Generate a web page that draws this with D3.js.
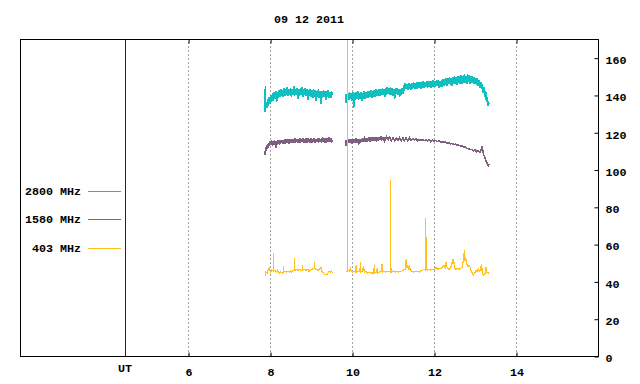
<!DOCTYPE html>
<html>
<head>
<meta charset="utf-8">
<script src="https://cdn.jsdelivr.net/npm/d3@7"></script>
<style>
    body { margin: 0; background: #fff; }
    text { font-family: "Liberation Mono", "DejaVu Sans Mono", monospace; font-weight: bold; font-size: 11.7px; fill: #000; }
</style>
</head>
<body>
<svg id="chart" width="640" height="384"></svg>
<script>
// chart texts and ticks
const title = "09 12 2011";
const xTicks = [6, 8, 10, 12, 14];
const yTicks = [0, 20, 40, 60, 80, 100, 120, 140, 160];
const utHour = 4.46;
const legendNames = ["2800 MHz", "1580 MHz", "403 MHz"];
const seriesColors = ["#10c0c0", "#806080", "#ffc020"];

// [hour, flux] pairs, two recording segments per frequency
const flux2800a = [[7.88,131],[7.885,145],[7.89,132],[7.90,135],[7.92,133],[7.94,138],[7.96,134],[7.98,139],[8.00,135],[8.02,140],[8.04,136.5],[8.06,141],[8.08,137],[8.10,141.5],[8.12,138],[8.14,142],[8.16,136],[8.18,141.5],[8.20,138.5],[8.22,142.5],[8.24,139],[8.26,143],[8.28,139.5],[8.30,142.5],[8.32,139],[8.34,143.5],[8.36,139.5],[8.38,143],[8.40,140],[8.42,144],[8.44,139.5],[8.46,143],[8.48,140],[8.50,143.5],[8.52,139],[8.54,143],[8.56,140],[8.58,144.5],[8.60,139.5],[8.62,143],[8.64,140],[8.66,143.5],[8.68,138],[8.70,143],[8.72,139.5],[8.74,143.5],[8.76,140],[8.78,144],[8.80,139],[8.82,143],[8.84,140],[8.86,143.5],[8.88,139.5],[8.90,143],[8.92,137.5],[8.94,142.5],[8.96,139.5],[8.98,143],[9.00,139],[9.02,142.5],[9.04,138.5],[9.06,143],[9.08,139],[9.10,142.5],[9.12,137],[9.14,142],[9.16,139],[9.18,143],[9.20,138.5],[9.22,142],[9.24,135],[9.26,142],[9.28,138.5],[9.30,142.5],[9.32,139],[9.34,142],[9.36,137.5],[9.38,142],[9.40,139],[9.42,142.5],[9.44,138.5],[9.46,141.5],[9.48,138.5],[9.50,142],[9.53,140]];
const flux2800b = [[9.85,135.5],[9.86,140.5],[9.88,137],[9.90,141],[9.92,137.5],[9.94,141.5],[9.96,138],[9.98,141],[10.00,137],[10.02,141.5],[10.04,133],[10.06,141],[10.08,137.5],[10.10,141.5],[10.12,138],[10.14,142],[10.16,137.5],[10.18,141],[10.20,138],[10.22,141.5],[10.24,137],[10.26,141],[10.28,138],[10.30,142],[10.32,138],[10.34,141.5],[10.36,138.5],[10.38,142],[10.40,138.5],[10.42,142],[10.44,139],[10.46,142.5],[10.48,138.5],[10.50,142],[10.52,139],[10.54,142.5],[10.56,139],[10.58,143],[10.60,139.5],[10.62,142.5],[10.64,139.5],[10.66,143],[10.68,139.5],[10.70,143],[10.72,140],[10.74,143.5],[10.76,140],[10.78,143],[10.80,139],[10.82,143.5],[10.84,140],[10.86,144],[10.88,140.5],[10.90,143.5],[10.92,140],[10.94,144],[10.96,140],[10.98,143.5],[11.00,139.5],[11.02,143],[11.04,138],[11.06,143.5],[11.08,140.5],[11.10,143.5],[11.12,140],[11.14,143],[11.16,139],[11.18,143],[11.20,140],[11.22,143.5],[11.24,140.5],[11.26,144],[11.28,143],[11.30,146.5],[11.32,143],[11.34,146],[11.36,142.5],[11.38,146.5],[11.40,143],[11.42,146],[11.44,142.5],[11.46,146.5],[11.48,143.5],[11.50,147],[11.52,143.5],[11.54,146.5],[11.56,143],[11.58,147],[11.60,143.5],[11.62,147],[11.64,144],[11.66,147],[11.68,143.5],[11.70,147],[11.72,144],[11.74,147.5],[11.76,144],[11.78,147],[11.80,144.5],[11.82,147.5],[11.84,144],[11.86,147.5],[11.88,144.5],[11.90,147.5],[11.92,144],[11.94,147.5],[11.96,144.5],[11.98,148],[12.00,144.5],[12.02,147.5],[12.04,144.5],[12.06,148],[12.08,145],[12.10,148],[12.12,144],[12.14,147.5],[12.16,144.5],[12.18,148],[12.20,144.5],[12.22,148.5],[12.24,145],[12.26,148.5],[12.28,145.5],[12.30,149],[12.32,145],[12.34,149],[12.36,146],[12.38,149.5],[12.40,145.5],[12.42,149],[12.44,145],[12.46,149.5],[12.48,146],[12.50,150],[12.52,146],[12.54,149.5],[12.56,145.5],[12.58,150],[12.60,146.5],[12.62,150],[12.64,146],[12.66,150.5],[12.68,146],[12.70,150],[12.72,146.5],[12.74,151],[12.76,146.5],[12.78,150],[12.80,146],[12.82,151],[12.84,147],[12.86,150.5],[12.88,146],[12.90,150],[12.92,146.5],[12.94,150],[12.96,146],[12.98,149.5],[13.00,146],[13.02,149],[13.04,145.5],[13.06,149],[13.08,145],[13.10,148],[13.12,144],[13.14,147],[13.16,143],[13.18,146],[13.20,141],[13.22,144],[13.24,139],[13.26,142],[13.28,136],[13.30,139],[13.32,134],[13.34,136]];

const flux1580a = [[7.88,108],[7.89,112],[7.90,110],[7.92,113],[7.94,111],[7.96,114],[7.98,112.5],[8.00,115],[8.02,113],[8.04,115.5],[8.06,112.5],[8.08,115],[8.10,113],[8.12,115.5],[8.14,111.5],[8.16,115],[8.18,113.5],[8.20,116],[8.22,113.5],[8.24,115.5],[8.26,114],[8.28,116],[8.30,114],[8.32,116],[8.34,114],[8.36,116.5],[8.38,114],[8.40,116],[8.42,114.5],[8.44,116.5],[8.46,114],[8.48,116],[8.50,114.5],[8.52,116.5],[8.54,114.5],[8.56,116.5],[8.58,114.5],[8.60,117],[8.62,114.5],[8.64,116.5],[8.66,115],[8.68,116.5],[8.70,114.5],[8.72,117],[8.74,114.5],[8.76,116.5],[8.78,115],[8.80,117],[8.82,114.5],[8.84,116.5],[8.86,114.5],[8.88,117],[8.90,114.5],[8.92,117],[8.94,115],[8.96,116.5],[8.98,114.5],[9.00,117],[9.02,114.5],[9.04,116.5],[9.06,115],[9.08,117],[9.10,114.5],[9.12,116.5],[9.14,115],[9.16,117],[9.18,114.5],[9.20,117],[9.22,115],[9.24,116.5],[9.26,114.5],[9.28,117.5],[9.30,115],[9.32,117],[9.34,114.5],[9.36,117],[9.38,114.5],[9.40,117],[9.42,115],[9.44,117.5],[9.46,115],[9.48,117],[9.50,115],[9.53,116]];
const flux1580b = [[9.85,112.5],[9.86,116],[9.88,114],[9.90,116.5],[9.92,114.5],[9.94,116.5],[9.96,114.5],[9.98,116.5],[10.00,114],[10.02,116.5],[10.04,114.5],[10.06,116.5],[10.08,114.5],[10.10,117],[10.12,114.5],[10.14,116.5],[10.16,113],[10.18,116.5],[10.20,114.5],[10.22,116.5],[10.24,115],[10.26,117],[10.28,115],[10.30,116.5],[10.32,115],[10.34,117],[10.36,115],[10.38,117],[10.40,115.5],[10.42,117.5],[10.44,115],[10.46,117.5],[10.48,115.5],[10.50,117.5],[10.52,115.5],[10.54,117.5],[10.56,115.5],[10.58,117.5],[10.60,116],[10.62,117.5],[10.64,115.5],[10.66,117.5],[10.68,116],[10.70,118],[10.72,115.5],[10.74,117.5],[10.76,116],[10.78,117.5],[10.80,115.5],[10.84,117.5],[10.88,116],[10.92,117.5],[10.96,115.5],[11.00,117],[11.04,115.5],[11.08,117],[11.12,115.5],[11.16,117],[11.20,115.5],[11.24,117],[11.28,115.5],[11.32,117],[11.36,115.5],[11.40,117],[11.44,115.5],[11.48,116.5],[11.52,116],[11.56,116.5],[11.60,115.5],[11.64,116],[11.68,115.5],[11.72,116],[11.76,115.5],[11.80,116],[11.84,115.5],[11.88,116],[11.92,115],[11.96,115.8],[12.00,115.3],[12.04,115.6],[12.08,115],[12.12,115.4],[12.16,114.6],[12.20,115],[12.24,114.4],[12.28,114.8],[12.32,114],[12.36,114.4],[12.40,113.8],[12.44,114],[12.48,113.4],[12.52,113.6],[12.56,113],[12.60,113.2],[12.64,112.6],[12.68,112.6],[12.72,112],[12.76,112],[12.80,111.3],[12.84,111.3],[12.88,110.6],[12.92,110.8],[12.96,110],[13.00,110.4],[13.04,109.6],[13.08,110],[13.12,109.4],[13.15,110.5],[13.17,112.5],[13.19,110],[13.21,108],[13.23,107],[13.25,106],[13.27,104.5],[13.29,104],[13.31,102.5],[13.33,102],[13.34,103]];

const flux403a = [[7.88,43],[7.90,45],[7.93,44.5],[7.95,46],[7.98,47],[8.00,45.5],[8.02,45],[8.04,46],[8.075,45.5],[8.08,55],[8.085,45.5],[8.12,46],[8.15,45],[8.18,46],[8.20,45],[8.23,44.5],[8.26,45],[8.30,44.5],[8.325,45],[8.33,48],[8.335,45],[8.37,45.5],[8.40,45],[8.43,45.5],[8.47,45],[8.50,45.5],[8.53,45],[8.56,46],[8.595,46],[8.60,52.5],[8.605,46],[8.64,46.5],[8.68,46],[8.72,46.5],[8.75,46],[8.785,46],[8.79,49],[8.795,46],[8.84,46.5],[8.88,46],[8.92,46.5],[8.95,45.5],[8.98,46],[9.02,46.5],[9.05,47],[9.075,47],[9.08,50.5],[9.085,47],[9.13,46.5],[9.17,46],[9.20,46.5],[9.24,47.5],[9.27,45],[9.30,44.5],[9.33,43.5],[9.37,43.5],[9.40,44],[9.44,45.5],[9.47,45],[9.50,45.5],[9.53,44.5]];
const flux403b = [[9.85,45],[9.885,45.5],[9.89,185],[9.895,46],[9.93,45.5],[9.96,47],[9.98,45.5],[10.01,45],[10.05,45.5],[10.095,45],[10.10,48.8],[10.105,45],[10.15,45.5],[10.195,45],[10.20,50.4],[10.205,45],[10.25,45.5],[10.28,48],[10.30,45],[10.34,45.5],[10.38,44.5],[10.42,45],[10.46,44.5],[10.535,44.5],[10.54,48.8],[10.545,44.5],[10.59,45],[10.62,47],[10.63,44.5],[10.67,45],[10.725,45.5],[10.73,49.3],[10.735,45],[10.78,45.5],[10.82,45],[10.86,45.5],[10.935,45],[10.94,94.4],[10.945,47.5],[10.97,45],[11.01,45.5],[11.05,45],[11.09,45.5],[11.13,45],[11.17,45.5],[11.21,45.5],[11.25,46],[11.31,46.5],[11.32,52],[11.33,47],[11.36,48.5],[11.38,47],[11.40,48.5],[11.42,46],[11.45,45.5],[11.49,45],[11.52,45.5],[11.56,45],[11.60,45.5],[11.64,45],[11.68,46],[11.72,46],[11.76,46.5],[11.795,46],[11.80,73.8],[11.805,47],[11.84,46],[11.88,46.5],[11.92,46],[11.96,46.5],[12.00,46.5],[12.04,47.5],[12.07,47],[12.10,46.5],[12.14,47],[12.18,47],[12.21,48],[12.24,48.5],[12.27,47.5],[12.29,50.6],[12.31,48],[12.34,47],[12.36,46.4],[12.39,47],[12.43,48.5],[12.45,51.5],[12.48,51.5],[12.50,47],[12.53,46.5],[12.57,47],[12.61,46.5],[12.65,47],[12.68,47.5],[12.70,49],[12.72,52],[12.74,56.8],[12.75,51],[12.77,53],[12.79,50],[12.82,48],[12.85,48.5],[12.88,47.6],[12.91,45.5],[12.94,44],[12.96,43.4],[12.99,44.5],[13.02,45.9],[13.05,45.5],[13.08,46.5],[13.11,45.5],[13.145,46],[13.15,49.2],[13.17,47],[13.19,44],[13.21,43.4],[13.24,44],[13.26,46],[13.27,47.7],[13.29,45],[13.32,44.5],[13.34,44.7]];

const series = [
    { name: legendNames[0], color: seriesColors[0], width: 1.6, segments: [flux2800a, flux2800b] },
    { name: legendNames[1], color: seriesColors[1], width: 1.6, segments: [flux1580a, flux1580b] },
    { name: legendNames[2], color: seriesColors[2], width: 1.2, segments: [flux403a, flux403b] }
];

const svg = d3.select("#chart");
const frame = { left: 20, right: 598, top: 39, bottom: 356 };

const x = d3.scaleLinear([1.9, 16], [frame.left, frame.right]);
const y = d3.scaleLinear([0, 170], [frame.bottom, frame.top]);

svg.append("defs").append("clipPath").attr("id", "plot-clip")
    .append("rect")
    .attr("x", frame.left).attr("y", frame.top)
    .attr("width", frame.right - frame.left).attr("height", frame.bottom - frame.top);

// dotted hour grid
const grid = svg.append("g")
    .attr("transform", `translate(0, ${frame.bottom})`)
    .call(d3.axisBottom(x).tickValues(xTicks).tickSize(-(frame.bottom - frame.top)).tickFormat(""));
grid.select(".domain").remove();
grid.selectAll("line").attr("stroke", "#a0a0a0").attr("stroke-dasharray", "2,2");

// UT marker line
svg.append("line")
    .attr("x1", Math.round(x(utHour)) + 0.5).attr("x2", Math.round(x(utHour)) + 0.5)
    .attr("y1", frame.top).attr("y2", frame.bottom)
    .attr("stroke", "#800000");

// data
const line = d3.line().x(d => x(d[0])).y(d => y(d[1]));
const plot = svg.append("g").attr("clip-path", "url(#plot-clip)");
series.forEach(s => {
    plot.selectAll(null)
        .data(s.segments)
        .enter()
        .append("path")
        .attr("d", line)
        .attr("fill", "none")
        .attr("stroke", s.color)
        .attr("stroke-width", s.width)
        .style("shape-rendering", "crispEdges");
});

// frame and axes
svg.append("rect")
    .attr("x", frame.left + 0.5).attr("y", frame.top + 0.5)
    .attr("width", frame.right - frame.left).attr("height", frame.bottom - frame.top)
    .attr("fill", "none").attr("stroke", "#000");

const xAxis = svg.append("g")
    .attr("transform", `translate(0.5, ${frame.bottom + 0.5})`)
    .call(d3.axisBottom(x).tickValues(xTicks).tickSize(-4).tickPadding(11));
xAxis.select(".domain").remove();

const xTop = svg.append("g")
    .attr("transform", `translate(0.5, ${frame.top + 0.5})`)
    .call(d3.axisTop(x).tickValues(xTicks).tickSize(-4).tickFormat(""));
xTop.select(".domain").remove();

const yAxis = svg.append("g")
    .attr("transform", `translate(${frame.right + 0.5}, 0.5)`)
    .call(d3.axisRight(y).tickValues(yTicks).tickSize(-4).tickPadding(7));
yAxis.select(".domain").remove();
yAxis.selectAll("text").attr("dy", "0.45em");

svg.selectAll(".tick text").attr("font-family", null).attr("font-size", null);

svg.append("text")
    .attr("x", x(utHour)).attr("y", 372)
    .attr("text-anchor", "middle")
    .text("UT");

svg.append("text")
    .attr("x", (frame.left + frame.right) / 2).attr("y", 23)
    .attr("text-anchor", "middle")
    .text(title);

// legend
const legend = svg.append("g");
series.forEach((s, i) => {
    const ly = [191, 219, 248][i];
    legend.append("text")
        .attr("x", 81).attr("y", ly + 4)
        .attr("text-anchor", "end")
        .text(s.name);
    legend.append("line")
        .attr("x1", 88).attr("x2", 121)
        .attr("y1", ly + 0.5).attr("y2", ly + 0.5)
        .attr("stroke", s.color);
});
</script>
</body>
</html>
